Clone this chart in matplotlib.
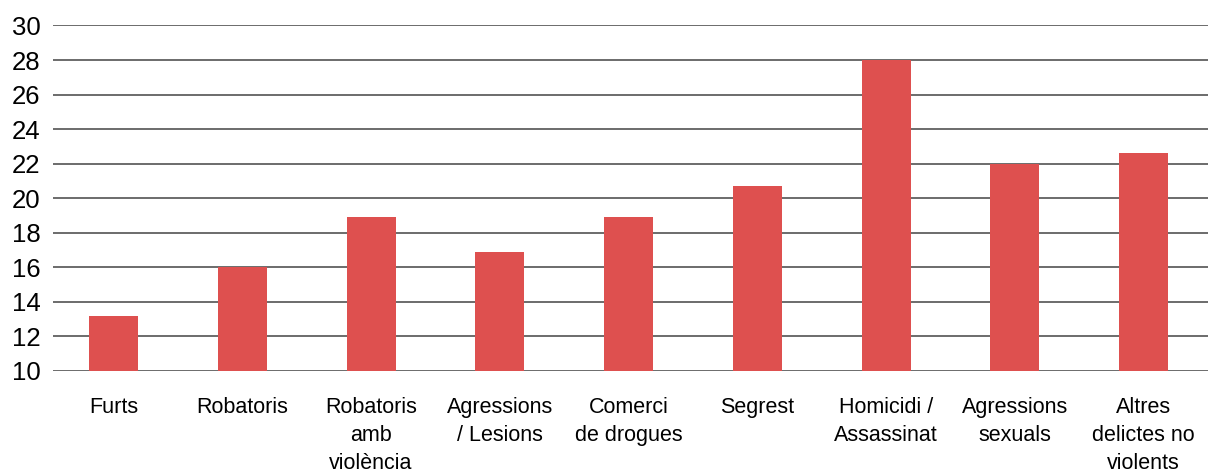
import matplotlib.pyplot as plt
import numpy as np

plt.rcParams['font.family'] = ['Liberation Sans', 'DejaVu Sans']

categories = ['Furts', 'Robatoris', 'Robatoris\namb\nviolència', 'Agressions\n/ Lesions',
              'Comerci\nde drogues', 'Segrest', 'Homicidi /\nAssassinat', 'Agressions\nsexuals',
              'Altres\ndelictes no\nviolents']
values = [13.2, 16.0, 18.9, 16.9, 18.9, 20.7, 28.0, 22.0, 22.6]
yticks = [10, 12, 14, 16, 18, 20, 22, 24, 26, 28, 30]

fig = plt.figure(figsize=(12.08, 4.72), dpi=100)
ax = fig.add_axes([53 / 1208, 0.214, 1155 / 1208, 0.732])

x = np.arange(len(categories))
ax.bar(x, np.array(values) - 10, bottom=10, width=0.38, color='#de504f', zorder=3)

ax.set_ylim(10, 30)
ax.set_xlim(-0.47, 8.5)
ax.set_yticks(yticks)
ax.yaxis.grid(True, color='#444444', linewidth=1.1, zorder=0)
ax.set_axisbelow(True)

for s in ax.spines.values():
    s.set_visible(False)

ax.set_xticks(x)
ax.set_xticklabels(categories, fontsize=15.5, linespacing=1.42, va='top')
ax.tick_params(axis='x', length=0, pad=19)
ax.tick_params(axis='y', length=0, pad=9, labelsize=18.5)

fig.savefig('out.png', dpi=100)
